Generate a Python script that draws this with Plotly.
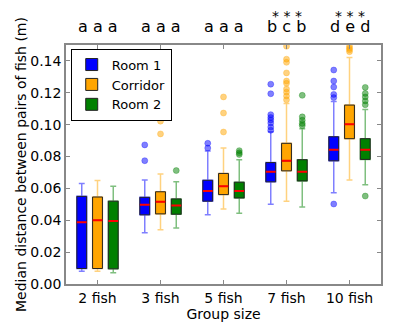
import plotly.graph_objects as go

# Group sizes (x categories)
groups = ['2 fish', '3 fish', '5 fish', '7 fish', '10 fish']

# Box statistics, per room
room1_q1 = [0.0097, 0.0434, 0.0520, 0.0641, 0.0773]
room1_median = [0.0387, 0.0498, 0.0583, 0.0704, 0.0843]
room1_q3 = [0.0550, 0.0544, 0.0651, 0.0762, 0.0924]
room1_low = [0.0080, 0.0322, 0.0434, 0.0500, 0.0573]
room1_high = [0.0630, 0.0653, 0.0835, 0.0955, 0.1145]
room1_outliers = [[], [0.0873, 0.0774], [0.0883, 0.0853],
                  [0.1254, 0.1194, 0.1063, 0.1045, 0.1030, 0.1010, 0.0985, 0.0965],
                  [0.1343, 0.1274, 0.1236, 0.1190, 0.1170, 0.0502]]

corr_q1 = [0.0097, 0.0440, 0.0561, 0.0710, 0.0912]
corr_median = [0.0400, 0.0516, 0.0613, 0.0773, 0.1002]
corr_q3 = [0.0546, 0.0579, 0.0694, 0.0883, 0.1123]
corr_low = [0.0080, 0.0340, 0.0470, 0.0520, 0.0653]
corr_high = [0.0650, 0.0691, 0.0853, 0.1133, 0.1422]
corr_outliers = [[], [0.1022, 0.0942], [0.1174, 0.1073, 0.0954],
                 [0.1492, 0.1411, 0.1391, 0.1325, 0.1274, 0.1260, 0.1224, 0.1204, 0.1180, 0.1156],
                 [0.1492, 0.1480, 0.1470, 0.1458]]

room2_q1 = [0.0095, 0.0438, 0.0540, 0.0647, 0.0782]
room2_median = [0.0395, 0.0492, 0.0583, 0.0704, 0.0843]
room2_q3 = [0.0520, 0.0534, 0.0639, 0.0780, 0.0912]
room2_low = [0.0070, 0.0351, 0.0444, 0.0484, 0.0623]
room2_high = [0.0613, 0.0641, 0.0780, 0.0974, 0.1095]
room2_outliers = [[], [0.0712], [0.0837, 0.0823, 0.0813],
                  [0.1184, 0.1049, 0.1028, 0.1008, 0.0994],
                  [0.1234, 0.1196, 0.1174, 0.1149, 0.1125, 0.0552]]

# Significance letters above each group (Room 1, Corridor, Room 2) and stars
group_letters = ['a a a', 'a a a', 'a a a', 'b c b', 'd e d']
stars = ['', '', '', '* * *', '* * *']

rooms = [
    ('Room 1', '0,0,255', room1_q1, room1_median, room1_q3, room1_low, room1_high, room1_outliers),
    ('Corridor', '255,165,0', corr_q1, corr_median, corr_q3, corr_low, corr_high, corr_outliers),
    ('Room 2', '0,128,0', room2_q1, room2_median, room2_q3, room2_low, room2_high, room2_outliers),
]

fig = go.Figure()

for name, rgb, q1, med, q3, low, high, outl in rooms:
    # whiskers (light, coloured)
    fig.add_trace(go.Box(
        x=groups, q1=q1, median=med, q3=q3, lowerfence=low, upperfence=high,
        name=name, offsetgroup=name, showlegend=False,
        line=dict(color=f'rgba({rgb},0.5)', width=1.5),
        fillcolor='rgba(0,0,0,0)', whiskerwidth=0.6, hoverinfo='skip'
    ))
    # box body
    fig.add_trace(go.Box(
        x=groups, q1=q1, median=med, q3=q3, lowerfence=q1, upperfence=q3,
        name=name, offsetgroup=name,
        line=dict(color='#222222', width=1),
        fillcolor=f'rgb({rgb})', whiskerwidth=0
    ))
    # red median
    fig.add_trace(go.Box(
        x=groups, q1=med, median=med, q3=med, lowerfence=med, upperfence=med,
        name=name, offsetgroup=name, showlegend=False,
        line=dict(color='#ff0000', width=2),
        fillcolor='rgba(0,0,0,0)', whiskerwidth=0, hoverinfo='skip'
    ))

for name, rgb, q1, med, q3, low, high, outl in rooms:
    xs = [g for g, pts in zip(groups, outl) for _ in pts]
    ys = [v for pts in outl for v in pts]
    fig.add_trace(go.Scatter(
        x=xs, y=ys, mode='markers', name=name, offsetgroup=name,
        showlegend=False,
        marker=dict(color=f'rgba({rgb},0.5)', size=6,
                    line=dict(color=f'rgba({rgb},0.6)', width=0.5))
    ))

annotations = []
for g, letters, s in zip(groups, group_letters, stars):
    annotations.append(dict(
        x=g, xref='x', y=1, yref='paper', yanchor='bottom', yshift=7,
        text=letters, showarrow=False, font=dict(size=16, color='black')
    ))
    if s:
        annotations.append(dict(
            x=g, xref='x', y=1, yref='paper', yanchor='bottom', yshift=19,
            text=s, showarrow=False, font=dict(size=14, color='black')
        ))

axis_style = dict(
    showline=True, linecolor='#888888', linewidth=1.5, mirror='ticks',
    ticks='inside', ticklen=4, tickcolor='#888888', showgrid=False,
    zeroline=False, tickfont=dict(size=14, color='black')
)

fig.update_layout(
    width=415, height=323,
    margin=dict(l=54, r=42, t=37, b=38),
    font=dict(family='DejaVu Sans', size=14, color='black'),
    plot_bgcolor='white', paper_bgcolor='white',
    boxmode='group', boxgap=0.25, boxgroupgap=0.375,
    scattermode='group', scattergap=0.25,
    xaxis=dict(axis_style, title=dict(text='Group size', standoff=4,
                                      font=dict(size=14))),
    yaxis=dict(axis_style, range=[0, 0.15], dtick=0.02, tickformat='.2f',
               title=dict(text='Median distance between pairs of fish (m)',
                          standoff=0, font=dict(size=14))),
    legend=dict(x=0.015, y=0.985, xanchor='left', yanchor='top',
                bordercolor='black', borderwidth=1, bgcolor='white',
                font=dict(size=13), tracegroupgap=0, itemwidth=30),
    annotations=annotations
)

fig.write_html("out.html")
